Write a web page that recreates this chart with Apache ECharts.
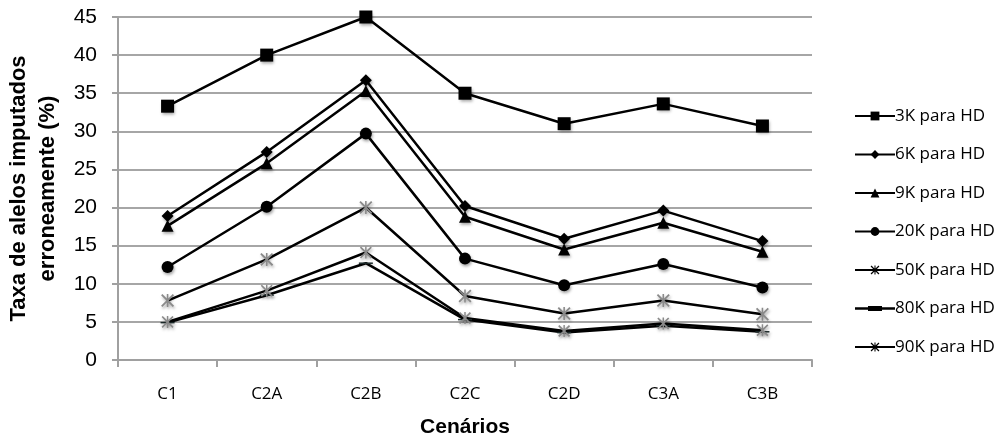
<!DOCTYPE html>
<html>
<head>
<meta charset="utf-8">
<script src="https://cdn.jsdelivr.net/npm/echarts@6/dist/echarts.min.js"></script>
<style>
html,body{margin:0;padding:0;background:#fff;}
#chart{width:1003px;height:438px;}
</style>
</head>
<body>
<div id="chart"></div>
<script>
const categories = ['C1','C2A','C2B','C2C','C2D','C3A','C3B'];
const s3K  = [33.3, 40.0, 45.0, 35.0, 31.0, 33.6, 30.7];
const s6K  = [18.9, 27.3, 36.7, 20.2, 15.9, 19.6, 15.6];
const s9K  = [17.6, 25.8, 35.3, 18.8, 14.5, 18.0, 14.2];
const s20K = [12.2, 20.1, 29.7, 13.3, 9.8, 12.6, 9.5];
const s50K = [7.8, 13.2, 20.0, 8.4, 6.1, 7.8, 6.0];
const s80K = [4.9, 8.5, 12.7, 5.3, 3.6, 4.5, 3.7];
const s90K = [5.0, 9.1, 14.1, 5.5, 3.8, 4.8, 3.9];
const seriesNames = ['3K para HD','6K para HD','9K para HD','20K para HD','50K para HD','80K para HD','90K para HD'];
const yTicks = {min: 0, max: 45, interval: 5};

const starPath = 'path://M1,0 L5,4 L9,0 L10,1 L6,5 L10,9 L9,10 L5,6 L1,10 L0,9 L4,5 L0,1 Z M4.4,0 H5.6 V10 H4.4 Z';
const dashPath = 'path://M0,0 H10 V3 H0 Z';
const dashLegendPath = 'path://M0,4.3 H40 V6.7 H0 Z M13,3 H27 V8 H13 Z';

const markerDefs = [
  {symbol: 'rect', size: 13, color: '#000'},
  {symbol: 'diamond', size: 12, color: '#000'},
  {symbol: 'triangle', size: 12, color: '#000'},
  {symbol: 'circle', size: 12, color: '#000'},
  {symbol: starPath, size: 13, color: '#8a8a8a'},
  {symbol: dashPath, size: [14, 5], color: '#1c2a2a'},
  {symbol: starPath, size: 12, color: '#8a8a8a'}
];
const dataSets = [s3K, s6K, s9K, s20K, s50K, s80K, s90K];

const series = dataSets.map((d, i) => ({
  name: seriesNames[i],
  type: 'line',
  data: d,
  symbol: markerDefs[i].symbol,
  symbolSize: markerDefs[i].size,
  symbolKeepAspect: true,
  showAllSymbol: true,
  lineStyle: {color: '#000', width: 2.5},
  itemStyle: {color: markerDefs[i].color, shadowColor: 'rgba(0,0,0,0.35)', shadowBlur: 3, shadowOffsetX: 1, shadowOffsetY: 2},
  emphasis: {disabled: true},
  animation: false
}));

const chart = echarts.init(document.getElementById('chart'), null, {renderer: 'canvas'});
chart.setOption({
  animation: false,
  backgroundColor: '#fff',
  grid: {left: 118, right: 191, top: 17, bottom: 78, containLabel: false, outerBoundsMode: 'none'},
  legend: {
    orient: 'vertical',
    left: 849,
    top: 101,
    itemWidth: 40,
    itemHeight: 11,
    itemGap: 18.5,
    symbolKeepAspect: true,
    data: seriesNames.map((n, i) => (i === 5
      ? {name: n, icon: dashLegendPath, itemStyle: {color: '#000'}}
      : {name: n, itemStyle: {color: '#000'}})),
    textStyle: {fontFamily: 'Open Sans', fontSize: 17, color: '#000', lineHeight: 20, padding: [0,0,0,-5]}
  },
  xAxis: {
    type: 'category',
    data: categories,
    boundaryGap: true,
    axisLine: {lineStyle: {color: '#a0a0a0', width: 2}},
    axisTick: {show: true, length: 7, lineStyle: {color: '#a0a0a0', width: 2}},
    axisLabel: {fontFamily: 'Open Sans', fontSize: 17, color: '#000', margin: 26},
    name: 'Cenários',
    nameLocation: 'middle',
    nameGap: 57,
    nameTextStyle: {fontFamily: 'Liberation Sans', fontWeight: 'bold', fontSize: 21, color: '#000'}
  },
  yAxis: {
    type: 'value',
    min: yTicks.min,
    max: yTicks.max,
    interval: yTicks.interval,
    axisLine: {show: true, lineStyle: {color: '#a0a0a0', width: 2}},
    axisTick: {show: true, length: 6, lineStyle: {color: '#a0a0a0', width: 2}},
    splitLine: {show: true, lineStyle: {color: '#a6a6a6', width: 2}},
    axisLabel: {fontFamily: 'Liberation Sans', fontSize: 21, color: '#000', margin: 21},
    name: 'Taxa de alelos imputados\nerroneamente (%)',
    nameLocation: 'middle',
    nameRotate: 90,
    nameGap: 50,
    nameTextStyle: {fontFamily: 'Liberation Sans', fontWeight: 'bold', fontSize: 22, color: '#000', lineHeight: 29}
  },
  series: series
});
</script>
</body>
</html>
